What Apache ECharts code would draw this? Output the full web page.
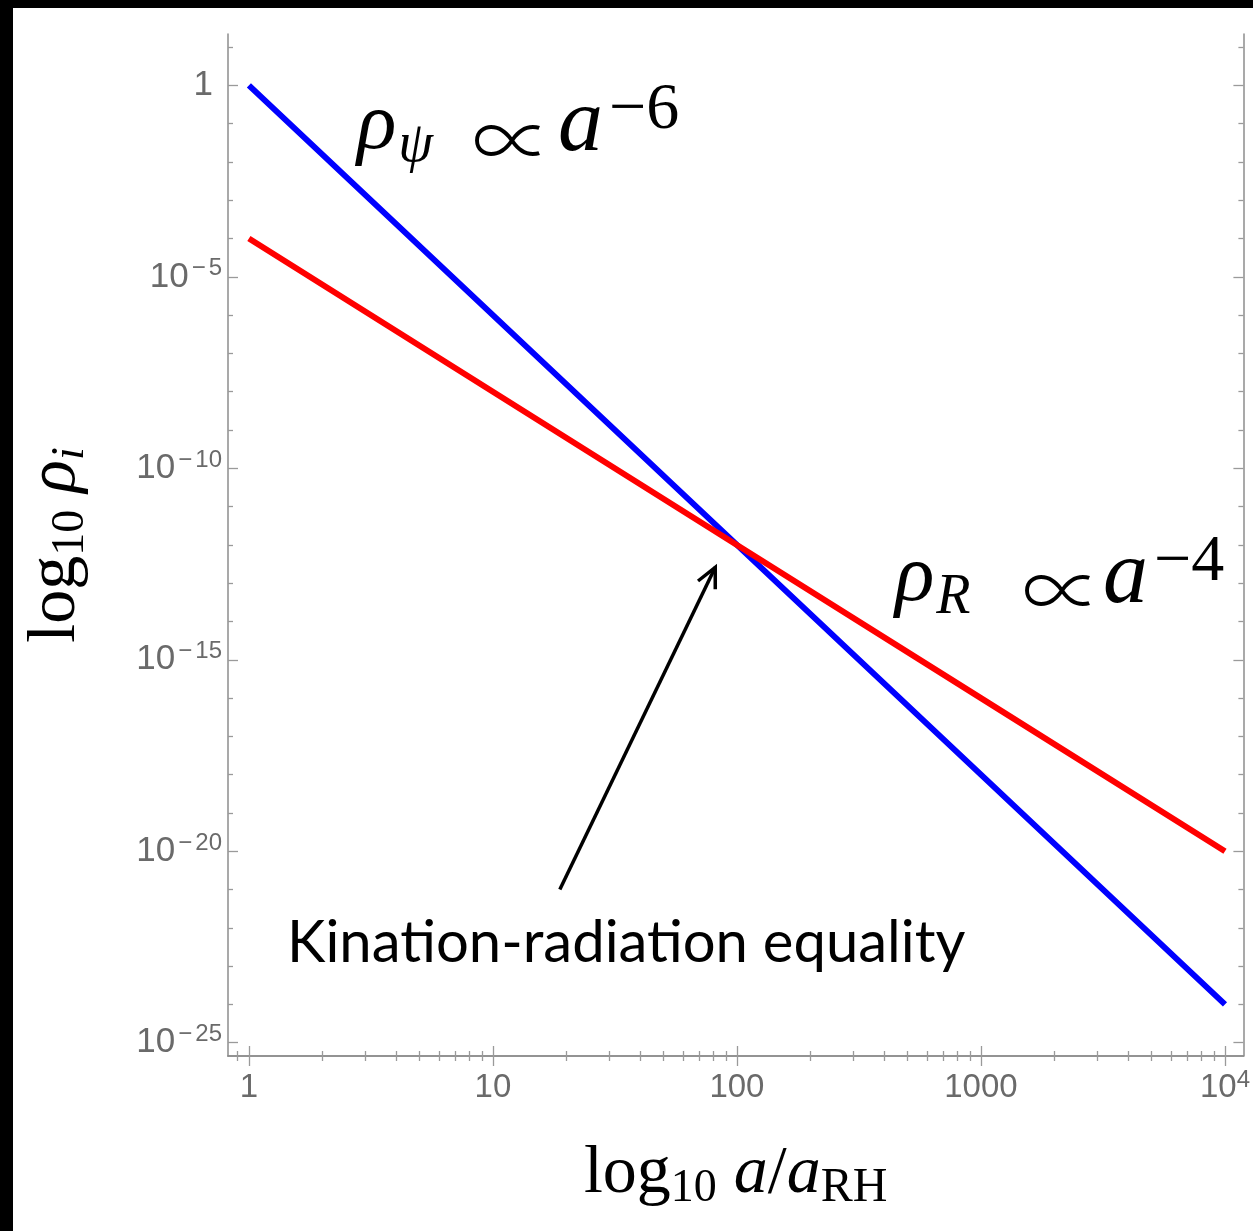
<!DOCTYPE html>
<html><head><meta charset="utf-8">
<script src="https://cdn.jsdelivr.net/npm/echarts@6/dist/echarts.min.js"></script>
<style>
html,body{margin:0;padding:0;background:#000;width:1253px;height:1231px;overflow:hidden;}
#c{position:absolute;left:13px;top:8px;width:1240px;height:1223px;background:#fff;}
</style>
</head><body><div id="c"></div>
<script>
// ---- data ----
const aValues = [1, 10, 100, 1000, 10000];
const rhoPsi  = [1, 1e-6, 1e-12, 1e-18, 1e-24];   // ∝ a^-6
const rhoR    = [1e-4, 1e-8, 1e-12, 1e-16, 1e-20]; // ∝ a^-4
const xMajorTicks = [1, 10, 100, 1000, 10000];
const xMinorTicks = [0.9, 2, 3, 4, 5, 6, 7, 8, 9, 20, 30, 40, 50, 60, 70, 80, 90,
  200, 300, 400, 500, 600, 700, 800, 900, 2000, 3000, 4000, 5000, 6000, 7000, 8000, 9000];
const yMajorTicks = [1, 1e-5, 1e-10, 1e-15, 1e-20, 1e-25];
const yMinorTicks = [10, 1e-1, 1e-2, 1e-3, 1e-4, 1e-6, 1e-7, 1e-8, 1e-9,
  1e-11, 1e-12, 1e-13, 1e-14, 1e-16, 1e-17, 1e-18, 1e-19, 1e-21, 1e-22, 1e-23, 1e-24];
const arrowFrom = [18.8, 1.0e-21];
const arrowTo   = [81.5, 2.6e-13];

const X_MIN = 0.821, X_MAX = 11900;
const Y_MIN = 4.5e-26, Y_MAX = 22;

const SANS = "'Liberation Sans', Arial, sans-serif";
const SERIF = "'Liberation Serif', 'DejaVu Serif', serif";
const LABEL_COLOR = '#6a6a6a';
const LINE_COLOR = '#8c8c8c';
const TICK_COLOR = '#9a9a9a';

function tickRich(size) {
  return {
    b: {fontSize: size, lineHeight: 40, fontFamily: SANS, color: LABEL_COLOR},
    b1: {fontSize: size, lineHeight: 40, fontFamily: SANS, color: LABEL_COLOR, padding: [0, 9, 0, 0]},
    m: {fontSize: 24, lineHeight: 24, verticalAlign: 'top', fontFamily: SANS, color: LABEL_COLOR, padding: [0, 3, 0, 3]},
    sup: {fontSize: 24, lineHeight: 24, verticalAlign: 'top', fontFamily: SANS, color: LABEL_COLOR}
  };
}
function expOf(v) { return Math.round(Math.log10(v)); }
function xFmt(v) {
  const e = expOf(v);
  if (e <= 3) return '{b|' + Math.pow(10, e) + '}';
  return '{b|10}{sup|' + e + '}';
}
function yFmt(v) {
  const e = expOf(v);
  if (e === 0) return '{b1|1}';
  return e < 0 ? '{b|10}{m|\u2212}{sup|' + (-e) + '}' : '{b|10}{sup|' + e + '}';
}

const titleRich = {
  r: {fontSize: 68, lineHeight: 76, fontFamily: SERIF, color: '#000'},
  it: {fontSize: 68, lineHeight: 76, fontFamily: SERIF, fontStyle: 'italic', color: '#000'},
  sub: {fontSize: 46, lineHeight: 28, verticalAlign: 'bottom', fontFamily: SERIF, color: '#000'},
  sub2: {fontSize: 48, lineHeight: 38, verticalAlign: 'bottom', fontFamily: SERIF, color: '#000'},
  subi: {fontSize: 46, lineHeight: 28, verticalAlign: 'bottom', fontFamily: SERIF, fontStyle: 'italic', color: '#000'}
};

function xAx(pos, ticks, len, withLabel, withLine) {
  const o = {
    type: 'log', logBase: 10, min: X_MIN, max: X_MAX, position: pos, gridIndex: 0,
    axisLine: {show: withLine, lineStyle: {color: LINE_COLOR, width: 1.5}},
    axisTick: {show: true, inside: true, length: len, customValues: ticks,
               lineStyle: {color: TICK_COLOR, width: 1.3}},
    minorTick: {show: false}, splitLine: {show: false},
    axisLabel: {show: false}
  };
  if (withLabel) {
    o.axisLabel = {show: true, customValues: xMajorTicks, margin: 12, formatter: xFmt, rich: tickRich(33)};
    o.name = '{r|log}{sub|10}{r| }{it|a}{r|/}{it|a}{sub2|RH}';
    o.nameLocation = 'middle';
    o.nameGap = 80;
    o.nameTextStyle = {rich: titleRich};
  }
  return o;
}
function yAx(pos, ticks, len, withLabel, withLine) {
  const o = {
    type: 'log', logBase: 10, min: Y_MIN, max: Y_MAX, position: pos, gridIndex: 0,
    axisLine: {show: withLine, lineStyle: {color: LINE_COLOR, width: 1.5}},
    axisTick: {show: true, inside: true, length: len, customValues: ticks,
               lineStyle: {color: TICK_COLOR, width: 1.3}},
    minorTick: {show: false}, splitLine: {show: false},
    axisLabel: {show: false}
  };
  if (withLabel) {
    o.axisLabel = {show: true, customValues: yMajorTicks, margin: 6, formatter: yFmt, rich: tickRich(35)};
    o.name = '{r|log}{sub|10}{r| }{it|\u03C1}{subi|i}';
    o.nameLocation = 'middle';
    o.nameGap = 134;
    o.nameRotate = 90;
    o.nameTextStyle = {rich: titleRich};
  }
  return o;
}

const chart = echarts.init(document.getElementById('c'), null, {renderer: 'canvas'});
const option = {
  backgroundColor: '#fff',
  animation: false,
  grid: {left: 215, top: 26, right: 4, bottom: 175, containLabel: false},
  xAxis: [
    xAx('bottom', xMajorTicks, 10, true, true),
    xAx('bottom', xMinorTicks, 5, false, false),
    xAx('top', xMajorTicks, 10, false, true),
    xAx('top', xMinorTicks, 5, false, false)
  ],
  yAxis: [
    yAx('left', yMajorTicks, 10, true, true),
    yAx('left', yMinorTicks, 5, false, false),
    yAx('right', yMajorTicks, 10, false, true),
    yAx('right', yMinorTicks, 5, false, false)
  ],
  series: [
    {type: 'line', name: 'rho_psi', xAxisIndex: 0, yAxisIndex: 0, showSymbol: false, symbol: 'none',
     data: aValues.map((a, i) => [a, rhoPsi[i]]),
     lineStyle: {color: '#0000ff', width: 6}, z: 3},
    {type: 'line', name: 'rho_R', xAxisIndex: 0, yAxisIndex: 0, showSymbol: false, symbol: 'none',
     data: aValues.map((a, i) => [a, rhoR[i]]),
     lineStyle: {color: '#ff0000', width: 6}, z: 4}
  ]
};
chart.setOption(option);

// annotations
const annRich = {
  rho: {fontSize: 82, lineHeight: 96, fontFamily: SERIF, fontStyle: 'italic', fill: '#000'},
  it: {fontSize: 90, lineHeight: 96, fontFamily: SERIF, fontStyle: 'italic', fill: '#000'},
  sub: {fontSize: 56, lineHeight: 52, verticalAlign: 'bottom', fontFamily: SERIF, fontStyle: 'italic', fill: '#000', padding: [0, 0, 0, 2]},
  m: {fontSize: 66, lineHeight: 50, verticalAlign: 'top', fontFamily: SERIF, fill: '#000', padding: [0, 0, 0, 6]},
  sup: {fontSize: 66, lineHeight: 50, verticalAlign: 'top', fontFamily: SERIF, fill: '#000'}
};
const propStyle = {text: '\u221D', font: "300 80px 'Noto Sans CJK JP', serif", fill: '#000', align: 'center', verticalAlign: 'middle'};
const p0 = chart.convertToPixel({gridIndex: 0}, arrowFrom);
const p1 = chart.convertToPixel({gridIndex: 0}, arrowTo);
const ang = Math.atan2(p1[1] - p0[1], p1[0] - p0[0]);
const hl = 22, ha = 0.45;
const h1 = [p1[0] - hl * Math.cos(ang - ha), p1[1] - hl * Math.sin(ang - ha)];
const h2 = [p1[0] - hl * Math.cos(ang + ha), p1[1] - hl * Math.sin(ang + ha)];

chart.setOption({
  graphic: [
    {type: 'text', x: 344, y: 70, z: 10,
     style: {text: '{rho|\u03C1}{sub|\u03C8}', rich: annRich, verticalAlign: 'top'}},
    {type: 'text', x: 499, y: 132, z: 10, style: propStyle},
    {type: 'text', x: 545, y: 70, z: 10,
     style: {text: '{it|a}{m|\u2212}{sup|6}', rich: annRich, verticalAlign: 'top'}},
    {type: 'text', x: 882, y: 522, z: 10,
     style: {text: '{rho|\u03C1}{sub|R}', rich: annRich, verticalAlign: 'top'}},
    {type: 'text', x: 1049, y: 582, z: 10, style: propStyle},
    {type: 'text', x: 1090, y: 522, z: 10,
     style: {text: '{it|a}{m|\u2212}{sup|4}', rich: annRich, verticalAlign: 'top'}},
    {type: 'text', x: 274, y: 935, z: 10,
     style: {text: 'Kination-radiation equality', font: "58px Lato, 'Open Sans', sans-serif",
             fill: '#000', verticalAlign: 'middle'}},
    {type: 'polyline', z: 10, shape: {points: [p0, p1]},
     style: {stroke: '#000', lineWidth: 3.5, fill: null}},
    {type: 'polyline', z: 10, shape: {points: [h1, p1, h2]},
     style: {stroke: '#000', lineWidth: 3.5, fill: null, lineJoin: 'miter'}}
  ]
});
</script>
</body></html>
